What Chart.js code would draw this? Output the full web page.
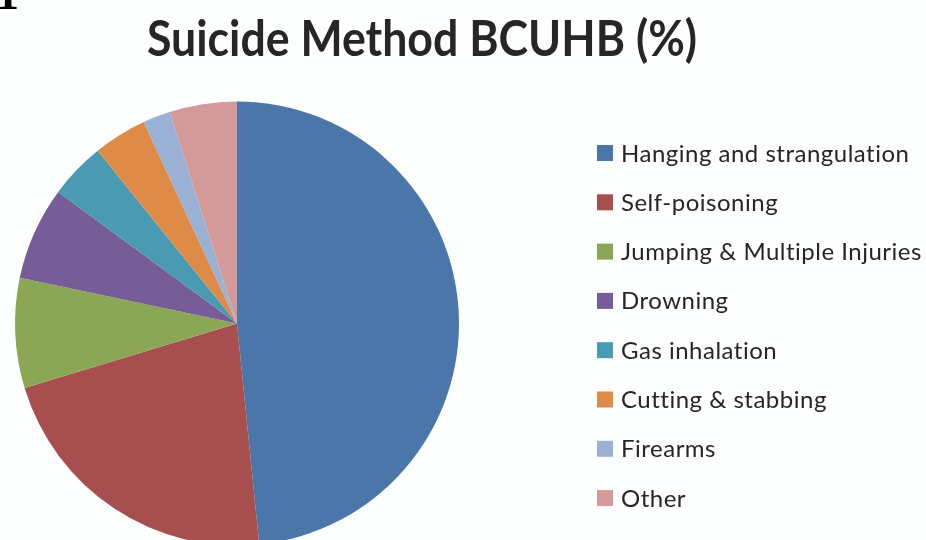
<!DOCTYPE html>
<html>
<head>
<meta charset="utf-8">
<script src="https://cdn.jsdelivr.net/npm/chart.js@4"></script>
<style>
    body { margin: 0; background: #fdfefe; overflow: hidden; }
    #wrap { position: relative; width: 926px; height: 560px; }
    #corner {
        position: absolute; left: -4px; top: -29px;
        font-family: "Liberation Serif", serif; font-size: 46px; font-weight: bold; line-height: 1;
        color: #000;
    }
</style>
</head>
<body>
<div id="wrap">
    <canvas id="pieChart" width="926" height="560"></canvas>
    <div id="corner">1</div>
</div>
<script>
var methods = [
    'Hanging and strangulation',
    'Self-poisoning',
    'Jumping & Multiple Injuries',
    'Drowning',
    'Gas inhalation',
    'Cutting & stabbing',
    'Firearms',
    'Other'
];
var percentages = [48.4, 21.9, 8.0, 6.8, 4.1, 3.9, 2.0, 4.9];
var sliceColors = ['#4a76aa', '#a74f4e', '#8ba756', '#765d98', '#4a9ab3', '#df8b48', '#98b1d5', '#d49999'];
var chartTitle = 'Suicide Method BCUHB (%)';

// title and legend drawn on the canvas at the spots the original uses
var textPlugin = {
    id: 'textPlugin',
    afterDraw: function(chart) {
        var ctx = chart.ctx;
        ctx.save();
        ctx.fillStyle = '#262626';
        ctx.font = 'bold 49px Lato';
        ctx.textAlign = 'center';
        ctx.textBaseline = 'alphabetic';
        // original face is narrower than Lato, squeeze to the same width
        var w = ctx.measureText(chartTitle).width;
        ctx.translate(422, 56);
        ctx.scale(550 / w, 1);
        ctx.fillText(chartTitle, 0, 0);
        ctx.restore();

        ctx.save();
        var labels = chart.data.labels;
        var colors = chart.data.datasets[0].backgroundColor;
        ctx.font = '24px Lato';
        ctx.letterSpacing = '0.5px';
        ctx.textAlign = 'left';
        ctx.textBaseline = 'alphabetic';
        for (var i = 0; i < labels.length; i++) {
            var cy = 153 + i * 49.3;
            ctx.fillStyle = colors[i];
            ctx.fillRect(597, cy - 8, 16, 16);
            ctx.fillStyle = '#262626';
            ctx.fillText(labels[i], 621, cy + 8.5);
        }
        ctx.restore();
    }
};

new Chart(document.getElementById('pieChart').getContext('2d'), {
    type: 'pie',
    data: {
        labels: methods,
        datasets: [{
            data: percentages,
            backgroundColor: sliceColors,
            borderWidth: 0,
            hoverOffset: 0
        }]
    },
    options: {
        responsive: false,
        animation: false,
        layout: { padding: { left: 15, top: 101.5, right: 467, bottom: 14.5 } },
        plugins: {
            legend: { display: false },
            title: { display: false },
            tooltip: { enabled: false }
        }
    },
    plugins: [textPlugin]
});
</script>
</body>
</html>
